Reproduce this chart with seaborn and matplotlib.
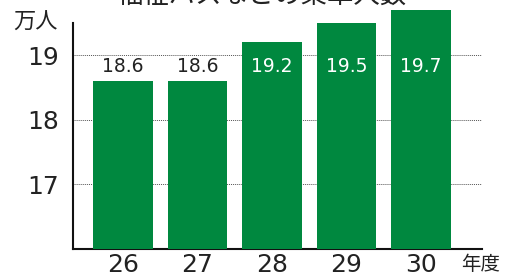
import matplotlib
matplotlib.use("Agg")
import pandas as pd
import seaborn as sns
import matplotlib.pyplot as plt

# データ
years = ["26", "27", "28", "29", "30"]
riders = [18.6, 18.6, 19.2, 19.5, 19.7]
title = "福祉バスなどの乗車人数"

sns.set_theme(style="white")
# 数字は DejaVu Sans、漢字・かなは Noto Sans CJK JP にフォールバック
plt.rcParams['font.family'] = ['DejaVu Sans', 'Noto Sans CJK JP']
cjk = ['Noto Sans CJK JP', 'DejaVu Sans']

df = pd.DataFrame({"年度": years, "万人": riders})

fig = plt.figure(figsize=(5.05, 2.78), dpi=100)
# 19.8 まで描画領域を広げて、左軸は 19.5 で止める
ax = fig.add_axes([0.1446, 0.1043, 0.81, (249 - 3.6) / 278])

green = "#00883f"
sns.barplot(data=df, x="年度", y="万人", color=green, saturation=1,
            width=0.8, ax=ax, zorder=3)
for p in ax.patches:
    p.set_edgecolor("none")

ax.set_ylim(16, 19.8)
ax.set_xlim(-0.67, 4.82)
ax.set_yticks([17, 18, 19])
ax.yaxis.grid(True, linestyle=(0, (1, 1)), color="#555555", linewidth=0.7, zorder=0)
ax.xaxis.grid(False)

# 値ラベル（同じ高さに並べる）
label_y = 18.83
for i, v in enumerate(riders):
    col = "white" if v > label_y else "#222222"
    ax.text(i, label_y, f"{v:.1f}", ha="center", va="center",
            fontsize=13.5, color=col, zorder=4)

ax.set_xlabel("")
ax.set_ylabel("")
ax.tick_params(axis="both", length=0, labelsize=18, colors="#222222")
ax.tick_params(axis="y", pad=10)
ax.tick_params(axis="x", pad=3)

for s in ["top", "right"]:
    ax.spines[s].set_visible(False)
for s in ["left", "bottom"]:
    ax.spines[s].set_color("#111111")
    ax.spines[s].set_linewidth(1.5)
ax.spines["left"].set_bounds(16, 19.5)

fig.text(36 / 505, 1 - 22 / 278, "万人", ha="center", va="center", fontsize=16,
         color="#222222", family=cjk)
fig.text(481 / 505, 1 - 265 / 278, "年度", ha="center", va="center", fontsize=14,
         color="#222222", family=cjk)
fig.text(262 / 505, 1 - 9 / 278, title, ha="center", va="bottom", fontsize=19,
         color="#222222", family=cjk)

plt.savefig("out.png", dpi=100)
